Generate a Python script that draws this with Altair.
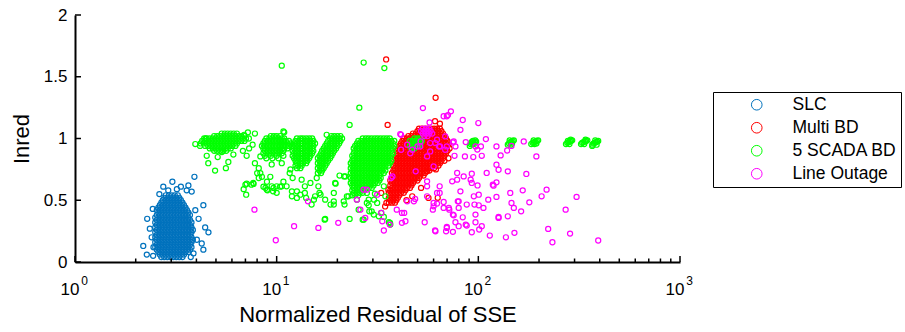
import altair as alt
import pandas as pd

W, H = 605, 247

series_names = ["SLC", "Multi BD", "5 SCADA BD", "Line Outage"]
series_colors = ["#0072BD", "#FF0000", "#00FF00", "#FF00FF"]

x_major_ticks = [1, 10, 100, 1000]
x_major_exponents = ["0", "1", "2", "3"]
x_minor_ticks = [2, 3, 4, 5, 6, 7, 8, 9, 20, 30, 40, 50, 60, 70, 80, 90,
                 200, 300, 400, 500, 600, 700, 800, 900]
y_ticks = [0, 0.5, 1, 1.5, 2]

# ---------------- SLC (dense core read as rows of circles) ----------------
slc_xa = [2.50, 2.59, 2.68, 2.77, 2.87, 2.97, 3.07, 3.18, 3.29, 3.41, 3.53, 3.65, 3.78]
slc_xb = [2.545, 2.635, 2.725, 2.82, 2.92, 3.02, 3.125, 3.235, 3.35, 3.47, 3.59, 3.715, 3.84]
slc_rows = [
    (0.04, slc_xa[2:10]), (0.06, slc_xb[1:10]), (0.08, slc_xa[1:12]),
    (0.10, slc_xb[0:12]), (0.12, slc_xa[0:13]), (0.14, slc_xb[0:12]),
    (0.16, slc_xa[0:13]), (0.18, slc_xb[0:13]), (0.20, slc_xa[0:13]),
    (0.22, slc_xb[0:12]), (0.24, slc_xa[0:13]), (0.26, slc_xb[0:13]),
    (0.28, slc_xa[0:13]), (0.30, slc_xb[0:12]), (0.32, slc_xa[0:13]),
    (0.34, slc_xb[0:12]), (0.36, slc_xa[0:12]), (0.38, slc_xb[0:12]),
    (0.40, slc_xa[1:12]), (0.42, slc_xb[0:11]), (0.44, slc_xa[1:11]),
    (0.46, slc_xb[1:10]), (0.48, slc_xa[2:10]), (0.50, slc_xb[2:9]),
    (0.52, slc_xa[3:9]), (0.54, slc_xb[3:8]),
]
slc_scatter = [
    (2.28, 0.35), (2.18, 0.13), (2.27, 0.06), (2.43, 0.43), (2.74, 0.61),
    (3.04, 0.65), (3.35, 0.61), (3.65, 0.62), (3.91, 0.69), (3.79, 0.57),
    (4.33, 0.46), (4.42, 0.28), (4.59, 0.24), (4.33, 0.10), (4.02, 0.18),
    (3.87, 0.07), (2.40, 0.20), (2.45, 0.12), (3.58, 0.58), (2.90, 0.58),
    (2.62, 0.55), (4.10, 0.35), (4.25, 0.15), (2.35, 0.27), (3.20, 0.59),
    (3.95, 0.42), (2.44, 0.05), (3.75, 0.04),
]

# ---------------- Multi BD ----------------
mbd_xa = [36.0, 37.3, 38.6, 39.9, 41.3, 42.7, 44.2, 45.8, 47.4, 49.0, 50.8,
          52.5, 54.4, 56.3, 58.2, 60.3, 62.4, 64.5, 66.8, 69.1, 71.5]
mbd_xb = [36.6, 37.9, 39.2, 40.6, 42.0, 43.5, 45.0, 46.6, 48.2, 49.9, 51.6,
          53.5, 55.3, 57.2, 59.2, 61.3, 63.4, 65.6, 67.9, 70.3]
mbd_rows = [
    (1.08, mbd_xa[10:18]), (1.06, mbd_xb[9:18]), (1.04, mbd_xa[8:19]),
    (1.02, mbd_xb[6:19]), (1.00, mbd_xa[5:20]), (0.98, mbd_xb[4:20]),
    (0.96, mbd_xa[4:21]), (0.94, mbd_xb[3:20]), (0.92, mbd_xa[3:20]),
    (0.90, mbd_xb[2:20]), (0.88, mbd_xa[3:20]), (0.86, mbd_xb[2:19]),
    (0.84, mbd_xa[2:19]), (0.82, mbd_xb[2:19]), (0.80, mbd_xa[2:18]),
    (0.78, mbd_xb[1:17]), (0.76, mbd_xa[2:16]), (0.74, mbd_xb[1:14]),
    (0.72, mbd_xa[1:13]), (0.70, mbd_xb[1:12]), (0.68, mbd_xa[1:11]),
    (0.66, mbd_xb[0:10]), (0.64, mbd_xa[1:9]), (0.62, mbd_xb[0:8]),
    (0.60, mbd_xa[1:8]), (0.58, mbd_xb[0:6]), (0.56, mbd_xa[0:6]),
    (0.54, mbd_xb[0:4]), (0.52, mbd_xa[0:4]), (0.50, mbd_xb[0:3]),
    (0.48, mbd_xa[0:3]),
]
mbd_scatter = [
    (34.9, 1.64), (35.5, 1.11), (61.4, 1.33), (61.0, 1.14), (62.9, 0.52),
    (35.0, 0.478), (33.0, 0.559), (35.8, 0.586), (47.0, 0.532), (56.6, 0.519),
    (55.7, 0.734), (71.1, 0.84), (61.6, 0.75), (34.5, 0.45), (72.0, 0.92),
    (44.0, 0.50), (52.0, 0.60), (64.5, 1.12),
]

# ---------------- 5 SCADA BD ----------------
sc_a1 = [4.20, 4.35, 4.50, 4.66, 4.82, 4.99, 5.16, 5.34, 5.53, 5.72, 5.92,
         6.13, 6.35, 6.57, 6.80, 7.04, 7.28, 7.54, 7.80]
sc_a2 = [4.27, 4.42, 4.58, 4.74, 4.90, 5.07, 5.25, 5.43, 5.62, 5.82, 6.02,
         6.24, 6.46, 6.68, 6.92, 7.16, 7.41, 7.67]
sc_b1 = [8.30, 8.59, 8.89, 9.20, 9.52, 9.86, 10.2, 10.6, 10.9, 11.3, 11.7, 12.1]
sc_b2 = [8.45, 8.74, 9.05, 9.36, 9.69, 10.0, 10.4, 10.8, 11.1, 11.5, 11.9]
sc_c1 = [12.0, 12.4, 12.8, 13.3, 13.8, 14.2, 14.7, 15.2, 15.7]
sc_c2 = [12.2, 12.6, 13.1, 13.5, 14.0, 14.5, 15.0, 15.5]
sc_d1 = [16.0, 16.6, 17.1, 17.7, 18.4, 19.0, 19.7, 20.4, 21.1]
sc_d2 = [16.3, 16.8, 17.4, 18.0, 18.7, 19.3, 20.0, 20.7, 21.4]
sc_e1 = [23.3, 24.1, 25.0, 25.8, 26.7, 27.7, 28.6, 29.6, 30.7, 31.7, 32.8,
         34.0, 35.2, 36.4, 37.7, 39.0]
sc_e2 = [23.7, 24.5, 25.4, 26.3, 27.2, 28.1, 29.1, 30.2, 31.2, 32.3, 33.4,
         34.6, 35.8, 37.0, 38.3]
sc_f1 = [45.8, 47.4, 49.0, 50.8, 52.5]
sc_f2 = [46.6, 48.2, 49.9, 51.6]

scada_rows = [
    # group near 5
    (1.04, sc_a1[7:13]), (1.02, sc_a2[4:15]), (1.00, sc_a1[2:17]),
    (0.98, sc_a2[0:15]), (0.96, sc_a1[0:13]), (0.94, sc_a2[1:12]),
    (0.92, sc_a1[3:11]), (0.90, sc_a2[4:9]),
    # group near 10
    (1.02, sc_b2[3:7]), (1.00, sc_b1[2:9]), (0.98, sc_b2[1:10]),
    (0.96, sc_b1[1:11]), (0.94, sc_b2[0:10]), (0.92, sc_b1[1:10]),
    (0.90, sc_b2[1:8]), (0.88, sc_b1[1:8]), (0.86, sc_b2[1:8:2]),
    (0.84, sc_b1[2:8:2]),
    # group near 13.5
    (1.00, sc_c2[1:7]), (0.98, sc_c1[1:8]), (0.96, sc_c2[0:8]),
    (0.94, sc_c1[0:8]), (0.92, sc_c2[0:7]), (0.90, sc_c1[0:8]),
    (0.88, sc_c2[0:7]), (0.86, sc_c1[0:7]), (0.84, sc_c2[0:6]),
    (0.82, sc_c1[1:6]), (0.80, sc_c2[1:5]), (0.78, sc_c1[1:4]),
    (0.76, sc_c2[1:3]),
    # group near 18
    (1.02, sc_d2[4:8]), (1.00, sc_d1[4:9]), (0.98, sc_d2[3:8]),
    (0.96, sc_d1[3:8]), (0.94, sc_d2[2:7]), (0.92, sc_d1[2:7]),
    (0.90, sc_d2[1:6]), (0.88, sc_d1[1:6]), (0.86, sc_d2[0:5]),
    (0.84, sc_d1[0:5]), (0.82, sc_d2[0:4]), (0.80, sc_d1[0:4]),
    (0.78, sc_d2[0:3]), (0.76, sc_d1[0:3]), (0.74, sc_d2[0:2]),
    (0.72, sc_d1[0:2]),
    # large group near 30
    (1.00, sc_e1[4:14]), (0.98, sc_e2[2:15]), (0.96, sc_e1[2:15]),
    (0.94, sc_e2[1:15]), (0.92, sc_e1[1:15]), (0.90, sc_e2[1:14]),
    (0.88, sc_e1[1:15]), (0.86, sc_e2[0:14]), (0.84, sc_e1[1:14]),
    (0.82, sc_e2[0:14]), (0.80, sc_e1[0:14]), (0.78, sc_e2[0:13]),
    (0.76, sc_e1[0:12]), (0.74, sc_e2[0:12]), (0.72, sc_e1[0:12]),
    (0.70, sc_e2[0:10]), (0.68, sc_e1[0:11]), (0.66, sc_e2[0:10]),
    (0.64, sc_e1[0:10]), (0.62, sc_e2[0:8]), (0.60, sc_e1[1:8]),
    (0.58, sc_e2[0:5]), (0.56, sc_e1[1:5]), (0.54, sc_e2[0:3]),
    # small group drawn over Multi BD
    (1.00, sc_f2[1:4]), (0.98, sc_f1[0:5]), (0.96, sc_f2[0:4]),
    (0.94, sc_f1[0:4]), (0.92, sc_f2[0:2]),
]
scada_scatter = [
    (7.8, 1.04), (7.2, 1.05), (4.45, 1.00), (6.9, 1.03), (4.17, 0.94),
    (4.58, 0.80), (4.95, 0.74), (5.6, 0.76), (5.76, 0.81), (7.1, 0.86),
    (6.8, 0.90), (5.1, 0.85), (6.1, 0.87), (5.35, 0.89), (4.5, 0.86),
    (7.6, 0.95), (7.3, 0.92), (3.95, 0.955), (4.37, 1.00),
    (8.15, 0.76), (8.0, 0.72), (8.45, 0.69), (8.95, 0.65), (8.6, 0.61),
    (8.95, 0.586), (9.65, 0.60), (10.0, 0.56), (10.4, 0.61), (10.8, 0.65),
    (7.8, 0.80), (8.3, 0.855), (9.45, 0.79), (10.6, 0.80), (11.7, 0.75),
    (9.3, 0.69), (7.0, 0.626), (6.86, 0.59), (7.06, 0.545), (7.66, 0.64),
    (7.1, 0.634), (8.8, 0.60), (9.0, 0.58), (9.6, 0.572), (10.6, 0.613),
    (11.2, 0.613), (11.9, 0.572), (10.8, 1.057), (9.45, 0.613), (8.3, 0.72),
    (8.15, 0.68), (7.68, 0.632), (7.5, 0.626), (10.0, 0.613),
    (11.6, 0.72), (12.0, 0.68), (13.3, 0.667), (13.8, 0.613), (14.7, 0.64),
    (12.6, 0.572), (13.1, 0.545), (14.0, 0.519), (14.9, 0.465), (15.5, 0.532),
    (11.9, 0.532), (12.6, 0.519), (13.8, 0.559), (15.3, 0.505),
    (16.1, 0.613), (16.3, 0.559), (16.5, 0.545), (17.4, 0.505), (18.5, 0.465),
    (19.2, 0.465), (19.2, 0.559), (19.6, 0.634), (17.3, 0.343), (17.4, 0.349),
    (15.8, 0.68), (20.5, 0.70), (21.6, 0.693), (19.5, 0.64), (19.2, 0.491),
    (23.0, 0.349), (25.5, 0.424), (21.5, 0.491), (21.9, 0.693), (29.6, 0.41),
    (32.1, 0.37), (34.0, 0.365), (36.0, 0.322), (36.6, 0.303), (27.0, 0.343),
    (28.6, 0.505), (30.4, 0.505), (28.0, 0.559), (34.0, 0.613), (34.6, 0.532),
    (31.5, 0.478), (28.6, 0.459), (28.0, 0.478), (28.8, 0.41), (30.3, 0.384),
    (30.7, 0.553), (26.7, 0.343), (33.0, 0.397), (36.5, 0.317), (22.7, 0.532),
    (22.3, 0.532), (21.7, 0.465), (25.0, 0.505),
    (23.0, 1.11), (25.7, 1.25), (10.6, 1.59), (27.0, 1.615), (34.2, 1.57),
    (17.7, 1.03), (10.9, 1.05),
    (90.7, 0.94), (367.0, 0.94),
]
scada_groups = [
    [(91.5, 0.955), (93.0, 0.96), (94.5, 0.965), (96.0, 0.97), (97.5, 0.975),
     (92.5, 0.97), (95.0, 0.955), (96.5, 0.985), (94.0, 0.98)],
    [(140, 0.95), (142, 0.96), (144, 0.97), (146, 0.975), (148, 0.98),
     (150, 0.985), (143, 0.985), (147, 0.96), (145, 0.95)],
    [(183, 0.955), (186, 0.965), (189, 0.97), (192, 0.975), (195, 0.98),
     (198, 0.985), (188, 0.985), (194, 0.96), (190, 0.955)],
    [(272, 0.955), (276, 0.965), (280, 0.97), (284, 0.975), (288, 0.98),
     (292, 0.985), (283, 0.955), (287, 0.99), (278, 0.98)],
    [(323, 0.955), (327, 0.965), (332, 0.97), (337, 0.975), (342, 0.98),
     (347, 0.985), (335, 0.955), (340, 0.99)],
    [(368, 0.95), (373, 0.96), (378, 0.965), (383, 0.97), (388, 0.975),
     (393, 0.98), (380, 0.985), (386, 0.95)],
]

# ---------------- Line Outage ----------------
lo_rows = [
    (1.080, [53.0, 55.0, 57.0]),
    (1.060, [52.0, 54.0, 56.0, 58.0]),
    (1.040, [53.0, 55.0, 57.0, 59.0]),
    (1.020, [54.0, 56.0]),
]
lo_scatter = [
    (7.76, 0.424), (9.9, 0.176), (12.2, 0.29), (14.3, 0.491), (16.1, 0.276),
    (20.2, 0.317), (26.0, 0.424), (25.0, 0.505), (27.0, 0.586), (33.4, 0.33),
    (36.9, 0.68), (41.4, 1.03), (53.1, 1.246), (57.3, 1.13), (60.0, 0.478),
    (61.3, 0.249), (42.9, 0.397), (41.8, 0.317), (47.9, 0.491), (55.7, 0.653),
    (64.3, 0.559), (71.4, 0.438), (69.8, 0.276),
    (67.3, 1.18), (69.8, 1.18), (73.1, 1.22), (83.7, 1.15), (100.0, 1.125),
    (81.5, 1.07), (75.5, 0.976), (77.0, 0.936), (86.6, 0.971), (96.8, 0.936),
    (103, 0.936), (109, 0.995), (104, 0.86), (94.4, 0.85), (85.8, 0.855),
    (76.2, 0.86), (123, 0.936), (129, 0.863), (139, 0.903), (146, 0.94),
    (168, 0.976), (194, 0.855), (123, 0.788), (126, 0.747), (140, 0.734),
    (173, 0.713), (110, 0.721), (92.8, 0.715), (78.5, 0.721), (74.2, 0.653),
    (78.5, 0.667), (84.6, 0.693), (92.8, 0.64), (99.1, 0.62), (118, 0.626),
    (123, 0.645), (81.5, 0.572), (95.0, 0.532), (100.5, 0.545), (112, 0.505),
    (123, 0.527), (144, 0.559), (166, 0.58), (179, 0.483), (146, 0.478),
    (150, 0.438), (163, 0.41), (140, 0.37), (126, 0.357), (106, 0.438),
    (100.5, 0.459), (87.6, 0.465), (79.9, 0.491), (79.9, 0.438), (83.7, 0.362),
    (75.5, 0.378), (67.3, 0.486), (62.4, 0.473), (60.0, 0.451), (59.5, 0.424),
    (71.8, 0.424), (96.8, 0.384), (96.8, 0.322), (104, 0.29), (92.8, 0.241),
    (101, 0.263), (86.6, 0.303), (77.0, 0.322), (79.9, 0.29), (69.8, 0.284),
    (69.2, 0.249), (74.8, 0.244), (61.0, 0.255), (54.2, 0.322), (43.5, 0.33),
    (41.8, 0.397), (44.4, 0.491), (48.6, 0.511), (55.7, 0.532), (62.4, 0.559),
    (64.3, 0.613), (55.7, 0.613), (34.0, 0.255), (36.4, 0.303), (27.5, 0.357),
    (33.0, 0.397), (39.4, 0.424), (28.0, 0.586), (31.5, 0.545), (37.5, 0.693),
    (41.0, 1.036), (41.4, 0.909), (51.7, 0.976), (222, 0.268), (218, 0.586),
    (206, 0.532), (307, 0.527), (271, 0.424), (233, 0.16), (285, 0.23),
    (393, 0.174), (137, 0.2), (151, 0.236), (114, 0.214), (126, 0.365),
    (98.9, 0.91), (74.8, 0.968), (69.8, 0.936), (91.6, 0.667), (119, 0.618),
    (95.7, 0.465), (79.1, 0.491), (74.8, 0.384), (87.6, 0.295), (67.3, 0.438),
    (49.9, 0.936), (47.0, 0.909), (57.7, 0.963), (62.4, 0.99), (63.9, 0.936),
    (57.7, 0.895), (55.7, 0.855), (44.4, 0.95), (60.0, 0.774), (48.9, 0.734),
    (46.0, 0.88), (51.5, 0.936), (61.2, 0.963), (64.6, 0.936), (68.5, 0.909),
    (68.5, 1.017), (70.7, 1.19),
]

# ---------------- table ----------------
records = []


def add_points(name, pts):
    for x, y in pts:
        records.append({"series": name, "x": x, "y": y})


def add_rows(name, rows):
    for y, xs in rows:
        for x in xs:
            records.append({"series": name, "x": x, "y": y})


add_rows("SLC", slc_rows)
add_points("SLC", slc_scatter)
add_rows("Multi BD", mbd_rows)
add_points("Multi BD", mbd_scatter)
add_rows("5 SCADA BD", scada_rows)
add_points("5 SCADA BD", scada_scatter)
for g in scada_groups:
    add_points("5 SCADA BD", g)
add_rows("Line Outage", lo_rows)
add_points("Line Outage", lo_scatter)

df = pd.DataFrame(records)

FONT = "Liberation Sans"
xscale = alt.Scale(type="log", domain=[1, 1000], nice=False)
yscale = alt.Scale(domain=[0, 2], nice=False, zero=False)

xaxis = alt.Axis(
    labels=False, ticks=False, grid=False, domainColor="black",
    domainWidth=2, title="Normalized Residual of SSE", titleFont=FONT,
    titleFontSize=22, titleFontWeight="normal", titleColor="black",
    titlePadding=42)
yaxis = alt.Axis(
    values=y_ticks, format="~g", ticks=False, grid=False,
    labelPadding=8, labelFont=FONT, labelFontSize=17, labelColor="black",
    labelFlush=False, domainColor="black", domainWidth=2,
    title="Inred", titleFont=FONT, titleFontSize=22,
    titleFontWeight="normal", titleColor="black", titlePadding=10)

points = alt.Chart(df).mark_point(
    filled=False, size=26, strokeWidth=1.2, opacity=1, shape="circle"
).encode(
    x=alt.X("x:Q", scale=xscale, axis=xaxis),
    y=alt.Y("y:Q", scale=yscale, axis=yaxis),
    color=alt.Color("series:N", scale=alt.Scale(domain=series_names, range=series_colors),
                    legend=alt.Legend(
                        title=None, orient="none", legendX=638, legendY=77,
                        padding=4, strokeColor="black", fillColor="white",
                        symbolType="circle", symbolSize=113, symbolStrokeWidth=1,
                        symbolOpacity=1, symbolOffset=31, labelOffset=27,
                        labelFont=FONT, labelFontSize=17.5, labelColor="black",
                        rowPadding=4)),
)

major_df = pd.DataFrame({"v": x_major_ticks, "e": x_major_exponents})
minor_df = pd.DataFrame({"v": x_minor_ticks})
ytick_df = pd.DataFrame({"v": y_ticks})

xmajor = alt.Chart(major_df).mark_rule(color="black", strokeWidth=1.5).encode(
    x=alt.X("v:Q", scale=xscale, axis=xaxis), y=alt.value(H), y2=alt.value(H - 6))
xminor = alt.Chart(minor_df).mark_rule(color="black", strokeWidth=1.5).encode(
    x=alt.X("v:Q", scale=xscale, axis=xaxis), y=alt.value(H), y2=alt.value(H - 3.5))
yt = alt.Chart(ytick_df).mark_rule(color="black", strokeWidth=1.5).encode(
    y=alt.Y("v:Q", scale=yscale, axis=yaxis), x=alt.value(0), x2=alt.value(6))

base_lbl = alt.Chart(major_df).mark_text(
    font=FONT, fontSize=17, color="black", align="center", baseline="alphabetic", dx=-5
).encode(x=alt.X("v:Q", scale=xscale, axis=xaxis), y=alt.value(H + 33), text=alt.value("10"))
exp_lbl = alt.Chart(major_df).mark_text(
    font=FONT, fontSize=12, color="black", align="center", baseline="alphabetic", dx=9.5
).encode(x=alt.X("v:Q", scale=xscale, axis=xaxis), y=alt.value(H + 23), text="e:N")

chart = alt.layer(points, xmajor, xminor, yt, base_lbl, exp_lbl).properties(
    width=W, height=H,
    autosize=alt.AutoSizeParams(type="none"),
    padding={"left": 75, "top": 15, "right": 905 - 75 - W, "bottom": 332 - 15 - H},
    background="white",
).configure_view(stroke=None)

chart.save("out.html", embed_options={"renderer": "svg", "actions": False})
